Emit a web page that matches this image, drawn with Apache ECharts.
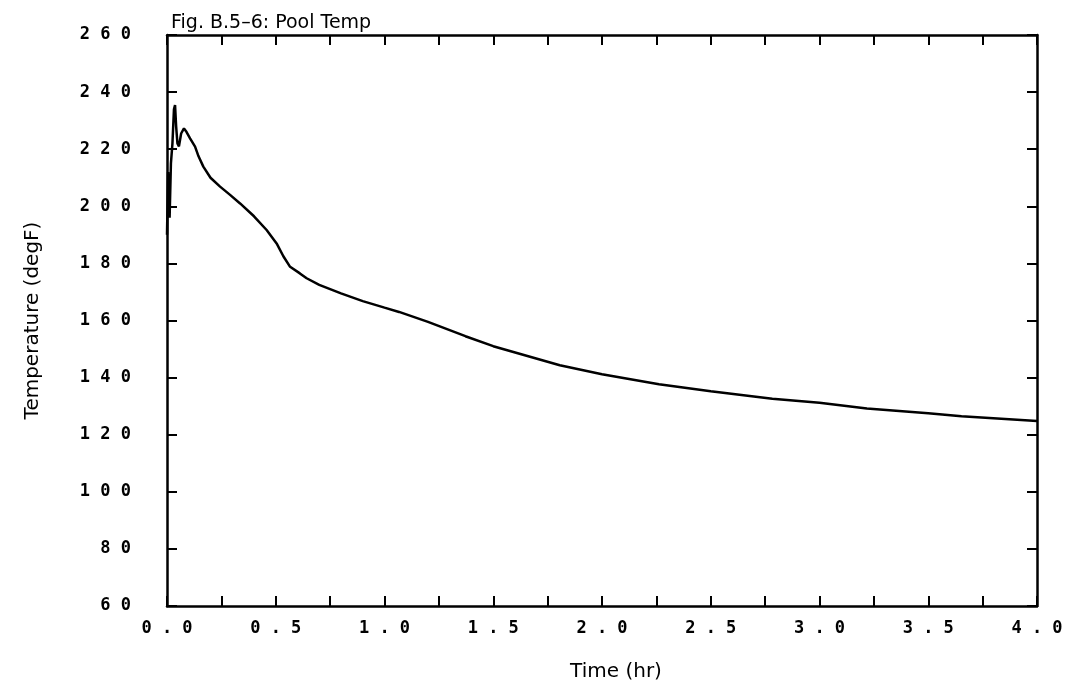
<!DOCTYPE html>
<html>
<head>
<meta charset="utf-8">
<title>Pool Temp</title>
<script src="https://cdn.jsdelivr.net/npm/echarts@6/dist/echarts.min.js"></script>
<style>
    html,body{margin:0;padding:0;background:#fff;}
    .mychart-line{width:1077px;height:690px;}
</style>
</head>
<body>
<div class="mychart-line"></div>
<script>
/*数据*/
var timeHr = [0, 0.005, 0.012, 0.018, 0.025, 0.032, 0.037, 0.042, 0.048, 0.055, 0.065, 0.078, 0.09, 0.106, 0.129, 0.145, 0.167, 0.2, 0.244, 0.29, 0.336, 0.4, 0.458, 0.504, 0.535, 0.566, 0.611, 0.642, 0.7, 0.8, 0.9, 1.0, 1.067, 1.2, 1.372, 1.5, 1.806, 2.0, 2.262, 2.5, 2.783, 3.0, 3.218, 3.5, 3.653, 4.0];
var poolTemp = [190, 212, 196, 215, 222, 234, 235.5, 228, 222, 221, 225.5, 227.3, 226, 223.8, 220.9, 217.5, 213.9, 210, 206.9, 204, 201, 196.5, 191.7, 187, 182.5, 178.8, 176.5, 174.8, 172.5, 169.5, 166.8, 164.5, 163, 159.5, 154.5, 151, 144.3, 141.2, 137.7, 135.2, 132.6, 131.2, 129.2, 127.5, 126.5, 124.8];
var xLabelStep = 0.5;

var seriesData = timeHr.map(function (t, i) {
    return [t, poolTemp[i]];
});

/*字符间加空格*/
var spaced = function (str) {
    return str.split('').join(' ');
};

var labelFont = "'DejaVu Sans Mono', monospace";
var boxLine = {onZero: false, lineStyle: {color: '#000', width: 2.5}};
var boxTick = {inside: true, length: 10, lineStyle: {color: '#000', width: 2}};

var option = {
    animation: false,
    title: {
        text: 'Fig. B.5–6: Pool Temp',
        left: 166,
        top: 9,
        textStyle: {
            color: '#000',
            fontWeight: 'normal',
            fontFamily: "'DejaVu Sans', sans-serif",
            fontSize: 19
        }
    },
    grid: {
        left: 167,
        right: 40,
        top: 35,
        bottom: 84
    },
    xAxis: [
        {
            type: 'value',
            min: 0,
            max: 4,
            interval: 0.25,
            name: 'Time (hr)',
            nameLocation: 'middle',
            nameGap: 56,
            nameTextStyle: {
                color: '#000',
                fontFamily: "'DejaVu Sans', sans-serif",
                fontSize: 20,
                padding: [0, 0, 0, 28]
            },
            axisLine: boxLine,
            axisTick: boxTick,
            axisLabel: {
                color: '#000',
                fontFamily: labelFont,
                fontWeight: 'bold',
                fontSize: 17,
                margin: 14,
                formatter: function (v) {
                    if (Math.abs(v / xLabelStep - Math.round(v / xLabelStep)) > 1e-6) return '';
                    return spaced(v.toFixed(1));
                }
            },
            splitLine: {show: false}
        },
        {
            type: 'value',
            position: 'top',
            min: 0,
            max: 4,
            interval: 0.25,
            axisLine: boxLine,
            axisTick: boxTick,
            axisLabel: {show: false},
            splitLine: {show: false}
        }
    ],
    yAxis: [
        {
            type: 'value',
            min: 60,
            max: 260,
            interval: 20,
            name: 'Temperature (degF)',
            nameLocation: 'middle',
            nameGap: 124,
            nameTextStyle: {
                color: '#000',
                fontFamily: "'DejaVu Sans', sans-serif",
                fontSize: 20
            },
            axisLine: boxLine,
            axisTick: boxTick,
            axisLabel: {
                color: '#000',
                fontFamily: labelFont,
                fontWeight: 'bold',
                fontSize: 17,
                margin: 36,
                formatter: function (v) {
                    return spaced(String(v));
                }
            },
            splitLine: {show: false}
        },
        {
            type: 'value',
            position: 'right',
            min: 60,
            max: 260,
            interval: 20,
            axisLine: boxLine,
            axisTick: boxTick,
            axisLabel: {show: false},
            splitLine: {show: false}
        }
    ],
    series: [
        {
            name: 'Pool Temp',
            type: 'line',
            xAxisIndex: 0,
            yAxisIndex: 0,
            showSymbol: false,
            smooth: false,
            lineStyle: {color: '#000', width: 2.5},
            data: seriesData
        }
    ]
};

var myChart = echarts.init(document.querySelector('.mychart-line'));
myChart.setOption(option);
</script>
</body>
</html>
